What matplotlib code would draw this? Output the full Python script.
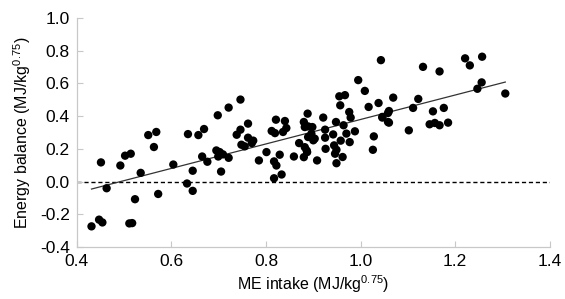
import numpy as np
import matplotlib
matplotlib.use("Agg")
import matplotlib.pyplot as plt

# fonts - Arial look-alike
plt.rcParams['font.family'] = ['Liberation Sans', 'DejaVu Sans']
plt.rcParams['mathtext.fontset'] = 'custom'
plt.rcParams['mathtext.rm'] = 'Liberation Sans'
plt.rcParams['mathtext.it'] = 'Liberation Sans'

# ME intake (x) and energy balance (y)
me_intake = [0.431, 0.447, 0.454, 0.451, 0.463, 0.492, 0.502, 0.514, 0.511, 0.517,
             0.523, 0.535, 0.551, 0.568, 0.563, 0.572, 0.604, 0.635, 0.633, 0.645,
             0.645, 0.657, 0.669, 0.665, 0.676, 0.698, 0.695, 0.702, 0.699, 0.709,
             0.721, 0.705, 0.721, 0.746, 0.738, 0.746, 0.762, 0.748, 0.755, 0.762,
             0.770, 0.785, 0.801, 0.812, 0.821, 0.819, 0.817, 0.822, 0.829, 0.817,
             0.833, 0.840, 0.843, 0.836, 0.859, 0.870, 0.880, 0.888, 0.889, 0.898,
             0.889, 0.882, 0.887, 0.880, 0.908, 0.903, 0.921, 0.925, 0.925, 0.926,
             0.942, 0.948, 0.944, 0.949, 0.946, 0.949, 0.955, 0.967, 0.957, 0.964,
             0.970, 0.976, 0.979, 0.977, 0.988, 0.995, 1.009, 1.017, 1.028, 1.026,
             1.038, 1.043, 1.046, 1.058, 1.058, 1.069, 1.060, 1.046, 1.060, 1.111,
             1.122, 1.132, 1.102, 1.153, 1.176, 1.167, 1.146, 1.157, 1.167, 1.185,
             1.221, 1.231, 1.257, 1.256, 1.247, 1.306, 0.882, 0.896, 0.900, 0.886,
             0.773, 0.958, 0.962]
energy_balance = [-0.274, -0.233, -0.250, 0.117, -0.041, 0.098, 0.158, 0.170, -0.256, -0.254,
                  -0.108, 0.053, 0.284, 0.303, 0.211, -0.076, 0.104, 0.290, -0.012, -0.057,
                  0.066, 0.284, 0.321, 0.153, 0.121, 0.405, 0.190, 0.180, 0.153, 0.166,
                  0.452, 0.061, 0.145, 0.501, 0.286, 0.317, 0.354, 0.225, 0.215, 0.268,
                  0.235, 0.129, 0.180, 0.309, 0.378, 0.296, 0.123, 0.098, 0.164, 0.020,
                  0.043, 0.370, 0.327, 0.303, 0.153, 0.235, 0.364, 0.415, 0.337, 0.333,
                  0.272, 0.210, 0.180, 0.149, 0.129, 0.262, 0.391, 0.317, 0.268, 0.200,
                  0.288, 0.364, 0.221, 0.194, 0.170, 0.112, 0.521, 0.528, 0.466, 0.344,
                  0.293, 0.425, 0.391, 0.241, 0.307, 0.620, 0.554, 0.456, 0.276, 0.194,
                  0.480, 0.742, 0.391, 0.419, 0.364, 0.513, 0.431, 0.395, 0.360, 0.450,
                  0.505, 0.701, 0.313, 0.429, 0.450, 0.673, 0.350, 0.358, 0.344, 0.360,
                  0.753, 0.710, 0.763, 0.606, 0.567, 0.538, 0.333, 0.292, 0.252, 0.190,
                  0.250, 0.250, 0.150]

x_ticks = [0.4, 0.6, 0.8, 1.0, 1.2, 1.4]
y_ticks = [-0.4, -0.2, 0.0, 0.2, 0.4, 0.6, 0.8, 1.0]

x = np.array(me_intake)
y = np.array(energy_balance)

fig = plt.figure(figsize=(5.65, 2.99), dpi=100)
ax = fig.add_axes([0.136, 0.174, 0.837, 0.766])

# zero line
ax.axhline(0.0, color='black', lw=1.0, ls=(0, (3, 2)), zorder=1)

# linear fit over the data range
slope, intercept = np.polyfit(x, y, 1)
xs = np.array([x.min(), x.max()])
ax.plot(xs, slope * xs + intercept, color='#333333', lw=0.9, zorder=2)

ax.scatter(x, y, s=36, color='black', edgecolors='none', zorder=3)

ax.set_xlim(0.4, 1.4)
ax.set_ylim(-0.4, 1.0)
ax.set_xticks(x_ticks)
ax.set_yticks(y_ticks)
ax.set_xticklabels([f"{t:.1f}" for t in x_ticks])
ax.set_yticklabels([f"{t:.1f}" for t in y_ticks])

for side in ['top', 'right']:
    ax.spines[side].set_visible(False)
for side in ['left', 'bottom']:
    ax.spines[side].set_color('#c8c8c8')
    ax.spines[side].set_linewidth(0.9)
ax.tick_params(direction='in', length=4, color='#c8c8c8', labelsize=12.5, pad=5)

ax.set_xlabel('ME intake (MJ/kg$^{0.75}$)', fontsize=11.5, labelpad=3)
ax.set_ylabel('Energy balance (MJ/kg$^{0.75}$)', fontsize=11.5, labelpad=5)

fig.savefig('out.png', dpi=100)
